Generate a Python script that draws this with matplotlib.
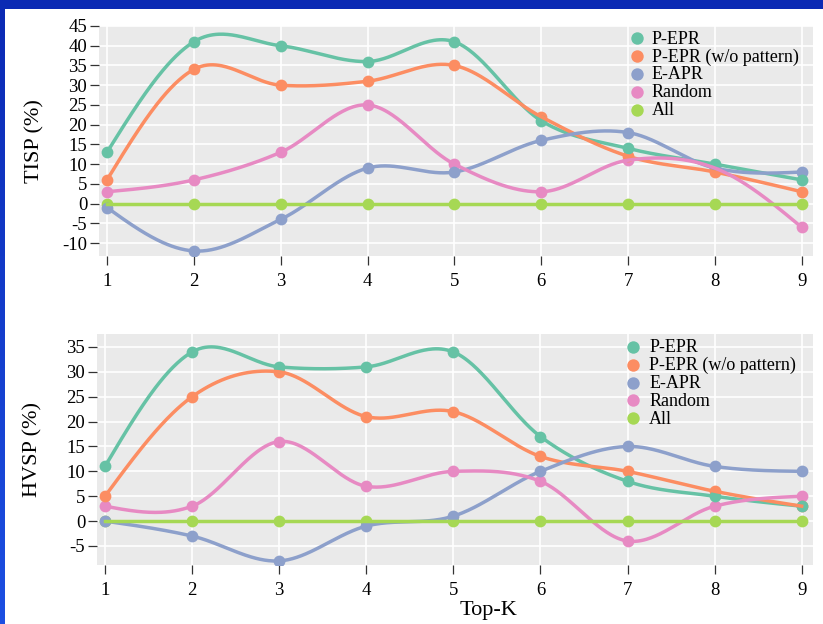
import numpy as np
import matplotlib
matplotlib.use("Agg")
import matplotlib.pyplot as plt
from matplotlib.colors import LinearSegmentedColormap

plt.rcParams['font.family'] = ['Liberation Serif', 'DejaVu Serif']
plt.rcParams['axes.unicode_minus'] = False

# data
top_k = [1, 2, 3, 4, 5, 6, 7, 8, 9]
series_names = ["P-EPR", "P-EPR (w/o pattern)", "E-APR", "Random", "All"]
colors = ["#66c2a5", "#fc8d62", "#8da0cb", "#e78ac3", "#a6d854"]

tisp_pepr = [13, 41, 40, 36, 41, 21, 14, 10, 6]
tisp_pepr_nopat = [6, 34, 30, 31, 35, 22, 12, 8, 3]
tisp_eapr = [-1, -12, -4, 9, 8, 16, 18, 9, 8]
tisp_random = [3, 6, 13, 25, 10, 3, 11, 9, -6]
tisp_all = [0, 0, 0, 0, 0, 0, 0, 0, 0]

hvsp_pepr = [11, 34, 31, 31, 34, 17, 8, 5, 3]
hvsp_pepr_nopat = [5, 25, 30, 21, 22, 13, 10, 6, 3]
hvsp_eapr = [0, -3, -8, -1, 1, 10, 15, 11, 10]
hvsp_random = [3, 3, 16, 7, 10, 8, -4, 3, 5]
hvsp_all = [0, 0, 0, 0, 0, 0, 0, 0, 0]


def smooth(x, y, n=60):
    """catmull-rom style hermite curve through the points, free ends"""
    x = np.asarray(x, float)
    y = np.asarray(y, float)
    m = np.zeros(len(y))
    m[1:-1] = (y[2:] - y[:-2]) / 2
    m[0] = (3 * (y[1] - y[0]) - m[1]) / 2
    m[-1] = (3 * (y[-1] - y[-2]) - m[-2]) / 2
    xs_all, ys_all = [], []
    t = np.linspace(0, 1, n)
    h00 = 2 * t ** 3 - 3 * t ** 2 + 1
    h10 = t ** 3 - 2 * t ** 2 + t
    h01 = -2 * t ** 3 + 3 * t ** 2
    h11 = t ** 3 - t ** 2
    for i in range(len(x) - 1):
        h = x[i + 1] - x[i]
        xs_all.append(x[i] + t * h)
        ys_all.append(h00 * y[i] + h10 * m[i] + h01 * y[i + 1] + h11 * m[i + 1])
    return np.concatenate(xs_all), np.concatenate(ys_all)


W, H = 823, 624
fig = plt.figure(figsize=(W / 100, H / 100), dpi=100)

# blue screenshot border
border = fig.add_axes([0, 0, 1, 1], zorder=-10)
border.axis('off')
border.add_patch(plt.Rectangle((0, 0), W, 8.5, color="#0b2ab4", lw=0))
cmap = LinearSegmentedColormap.from_list("b", ["#0b2ab4", "#1c4fe2"])
border.imshow(np.linspace(0, 1, 100).reshape(-1, 1), cmap=cmap, aspect='auto',
              extent=(0, 5, H, 0))
border.set_xlim(0, W)
border.set_ylim(H, 0)


def panel(rect, data, ylabel, ylim, yticks, leg_xy, leg_text_x):
    ax = fig.add_axes(rect)
    ax.set_facecolor("#eaeaea")
    for s in ax.spines.values():
        s.set_visible(False)
    ax.grid(True, color="white", linewidth=1.2)
    ax.set_axisbelow(True)

    # markers first (reverse order), lines on top
    for vals, c in reversed(list(zip(data, colors))):
        ax.scatter(top_k, vals, s=72, color=c, zorder=2, linewidths=0)
    for vals, c in zip(data, colors):
        xs, ys = smooth(top_k, vals)
        ax.plot(xs, ys, color=c, linewidth=2.5, zorder=3)

    ax.set_xlim(0.908, 9.13)
    ax.set_ylim(*ylim)
    ax.set_xticks(top_k)
    ax.set_yticks(yticks)
    ax.tick_params(direction='out', length=6.5, width=0.9, color="#333333",
                   labelsize=13.5, pad=2)
    ax.tick_params(axis='x', pad=5.5)
    ax.set_ylabel(ylabel, fontsize=16)
    ax.yaxis.set_label_coords(-0.076, 0.5)

    # legend
    lx, ly = leg_xy
    for i, (name, c) in enumerate(zip(series_names, colors)):
        yy = ly - i * 0.0775
        ax.scatter([lx], [yy], s=80, color=c, transform=ax.transAxes,
                   linewidths=0, clip_on=False, zorder=5)
        ax.text(leg_text_x, yy - 0.004, name, transform=ax.transAxes, fontsize=13,
                va='center', ha='left', zorder=5)
    return ax


ax1 = panel([99 / W, 1 - 256 / H, 714 / W, 230 / H],
            [tisp_pepr, tisp_pepr_nopat, tisp_eapr, tisp_random, tisp_all],
            "TISP (%)", (-13.28, 44.75), np.arange(-10, 46, 5),
            (0.7535, 0.9465), 0.7745)

ax2 = panel([97 / W, 1 - 565 / H, 716 / W, 231 / H],
            [hvsp_pepr, hvsp_pepr_nopat, hvsp_eapr, hvsp_random, hvsp_all],
            "HVSP (%)", (-8.82, 37.61), np.arange(-5, 36, 5),
            (0.7486, 0.945), 0.771)

fig.text(488 / W, 1 - 610 / H, "Top-K", fontsize=16, ha='center', va='center')

fig.savefig("out.png", dpi=100)
